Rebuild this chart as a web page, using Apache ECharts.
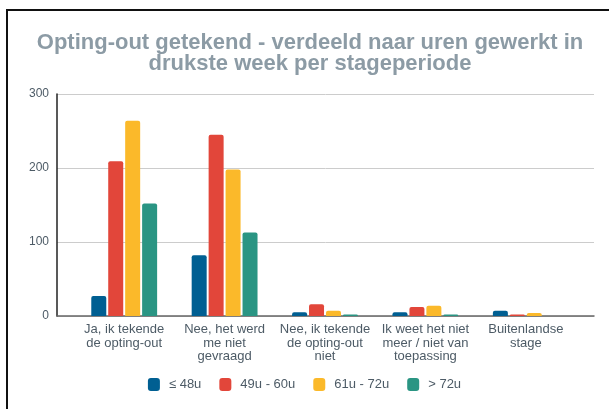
<!DOCTYPE html>
<html>
<head>
<meta charset="utf-8">
<script src="https://cdn.jsdelivr.net/npm/echarts@6/dist/echarts.min.js"></script>
<style>
  html, body { margin: 0; padding: 0; width: 609px; height: 409px; overflow: hidden; background: #fff; }
  .frame { position: absolute; left: 6px; top: 9px; width: 603px; height: 400px; border-top: 2px solid #111; border-left: 2px solid #111; box-sizing: border-box; }
  .chart { position: absolute; left: 0; top: 0; width: 609px; height: 409px; }
</style>
</head>
<body>
<div class="frame"></div>
<div class="chart"></div>
<script>
var categories = ['Ja, ik tekende\nde opting-out', 'Nee, het werd\nme niet\ngevraagd', 'Nee, ik tekende\nde opting-out\nniet', 'Ik weet het niet\nmeer / niet van\ntoepassing', 'Buitenlandse\nstage'];
var seriesNames = ['≤ 48u', '49u - 60u', '61u - 72u', '> 72u'];
var tot48 = [27, 82, 5, 5, 7];
var tot60 = [209, 245, 16, 12, 2];
var tot72 = [264, 198, 7, 14, 4];
var boven72 = [152, 113, 2, 2, 0];
var colors = ['#005f92', '#e2463a', '#fbb92a', '#2a9583'];

var myChart = echarts.init(document.querySelector('.chart'));
var values = [tot48, tot60, tot72, boven72];

var option = {
    animation: false,
    textStyle: { fontFamily: 'Arial, "Liberation Sans", sans-serif' },
    title: {
        text: 'Opting-out getekend - verdeeld naar uren gewerkt in\ndrukste week per stageperiode',
        left: 305,
        textAlign: 'center',
        top: 27,
        textStyle: { color: '#8c9ba5', fontSize: 22, fontWeight: 'bold', lineHeight: 21 }
    },
    legend: {
        data: seriesNames,
        top: 373,
        left: 'center',
        itemWidth: 12,
        itemHeight: 13,
        itemGap: 18,
        icon: 'roundRect',
        textStyle: { color: '#4d5b66', fontSize: 13, padding: [0, 0, 0, 4] }
    },
    grid: [
        { left: 57, right: 15, top: 94, bottom: 93 },
        { left: 74, right: 33, top: 94, bottom: 93 }
    ],
    xAxis: [
        {
            type: 'category', gridIndex: 0, data: [''],
            axisLine: { lineStyle: { color: '#666', width: 1.5 } },
            axisTick: { show: false }, axisLabel: { show: false }
        },
        {
            type: 'category', gridIndex: 1, data: categories,
            axisLine: { show: false }, axisTick: { show: false },
            axisLabel: { color: '#4d5b66', fontSize: 13, lineHeight: 13.5, interval: 0, margin: 7 }
        }
    ],
    yAxis: [
        {
            type: 'value', gridIndex: 0, min: 0, max: 300, interval: 100,
            axisLine: { show: true, lineStyle: { color: '#222', width: 1.5 } },
            axisTick: { show: false },
            axisLabel: { color: '#4d5b66', fontSize: 12, margin: 8 },
            splitLine: { lineStyle: { color: '#cccccc' } }
        },
        {
            type: 'value', gridIndex: 1, min: 0, max: 300, interval: 100,
            axisLine: { show: false }, axisTick: { show: false },
            axisLabel: { show: false }, splitLine: { show: false }
        }
    ],
    series: seriesNames.map(function (name, i) {
        return {
            name: name,
            type: 'bar',
            xAxisIndex: 1,
            yAxisIndex: 1,
            data: values[i],
            barWidth: 15,
            barGap: '13%',
            itemStyle: { color: colors[i], borderRadius: [2, 2, 0, 0] }
        };
    })
};
myChart.setOption(option);
</script>
</body>
</html>
